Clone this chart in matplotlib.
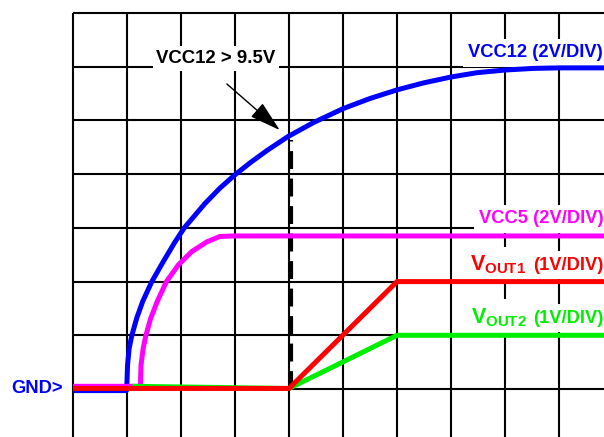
import matplotlib
matplotlib.use("Agg")
import matplotlib.pyplot as plt

plt.rcParams['font.family'] = ['Liberation Sans', 'DejaVu Sans']
plt.rcParams['font.weight'] = 'bold'
plt.rcParams['mathtext.fontset'] = 'custom'
plt.rcParams['mathtext.rm'] = 'Liberation Sans:bold'
plt.rcParams['mathtext.it'] = 'Liberation Sans:bold'
plt.rcParams['mathtext.bf'] = 'Liberation Sans:bold'

# scope traces: x in time divisions, y in divisions above GND
vcc12_x = [0, 0.99, 1.0, 1.01, 1.04, 1.09, 1.18, 1.29, 1.46, 1.67, 1.89, 2.06, 2.44,
           2.72, 3.0, 3.29, 3.59, 3.98, 4.45, 5.0, 5.5, 6.0, 6.49, 7.0, 7.48, 8.0,
           8.52, 9.0, 9.9]
vcc12_y = [-0.03, -0.03, 0.15, 0.45, 0.76, 1.0, 1.32, 1.63, 2.0, 2.37, 2.74, 3.0, 3.45,
           3.74, 3.99, 4.22, 4.44, 4.70, 4.96, 5.22, 5.41, 5.57, 5.70, 5.81, 5.89, 5.94,
           5.97, 5.98, 5.98]

vcc5_x = [0, 1.25, 1.25, 1.26, 1.30, 1.35, 1.44, 1.56, 1.73, 1.95, 2.20, 2.48, 2.72,
          2.97, 9.9]
vcc5_y = [0.05, 0.05, 0.15, 0.45, 0.76, 1.0, 1.32, 1.63, 2.0, 2.31, 2.56, 2.74, 2.84,
          2.85, 2.85]

vout1_x = [0, 4.0, 6.0, 9.9]
vout1_y = [0.01, 0.01, 2.0, 2.0]

vout2_x = [1.1, 4.0, 6.0, 9.9]
vout2_y = [0.05, 0.01, 1.0, 1.0]

# VCC12 > 9.5V marker (time div, level div)
marker_x = 4.04
marker_top = 4.64

n_xdiv = 10
n_ydiv = 8

BLUE = '#0000ff'
MAGENTA = '#ff00ff'
RED = '#ff0000'
GREEN = '#00ee00'

fig = plt.figure(figsize=(6.04, 4.37), dpi=100)
ax = fig.add_axes([0, 0, 1, 1])
ax.set_xlim(-1.352, 9.833)
ax.set_ylim(-0.894, 7.244)
ax.axis('off')

# scope grid
for i in range(n_xdiv):
    ax.plot([i, i], [-1, n_ydiv - 1], color='black', lw=1.5, zorder=1,
            solid_capstyle='butt')
for j in range(n_ydiv):
    ax.plot([0, 10], [j, j], color='black', lw=1.5, zorder=1,
            solid_capstyle='butt')

# traces
lw = 3.6
style = dict(lw=lw, solid_capstyle='butt', solid_joinstyle='round')
ax.plot(vcc12_x, vcc12_y, color=BLUE, zorder=4, **style)
ax.plot(vcc5_x, vcc5_y, color=MAGENTA, zorder=5, **style)
ax.plot(vout2_x, vout2_y, color=GREEN, zorder=6, **style)
ax.plot(vout1_x, vout1_y, color=RED, zorder=7, **style)

ax.plot([marker_x, marker_x], [0, marker_top], color='black', lw=3,
        dashes=(4.3, 2.3), zorder=3)

box = dict(boxstyle='square,pad=0.3', fc='white', ec='none')
fs = 13.2

ax.text(9.815, 6.18, 'VCC12 (2V/DIV)', color=BLUE, fontsize=fs,
        ha='right', va='baseline', bbox=box, zorder=2)
ax.text(9.83, 3.09, 'VCC5 (2V/DIV)', color=MAGENTA, fontsize=fs,
        ha='right', va='baseline', bbox=box, zorder=2)

for base, name, col in [(2.216, 'OUT1', RED), (1.23, 'OUT2', GREEN)]:
    t = ax.text(9.83, base, '(1V/DIV)', color=col, fontsize=fs,
                ha='right', va='baseline', bbox=box, zorder=2)
    ax.annotate('$V_{%s}$' % name, xy=(0, base), xycoords=(t, 'data'),
                xytext=(-5, 0), textcoords='offset points', color=col,
                fontsize=15.5, ha='right', va='baseline', bbox=box, zorder=2)

ax.text(-0.185, -0.07, 'GND>', color=BLUE, fontsize=fs, ha='right',
        va='baseline', zorder=2)

ax.text(2.65, 6.07, 'VCC12 > 9.5V', color='black', fontsize=13.4,
        ha='center', va='baseline', zorder=2,
        bbox=dict(boxstyle='square,pad=0.2', fc='white', ec='none'))
ax.annotate('', xy=(3.83, 4.82), xytext=(2.85, 5.68), zorder=8,
            arrowprops=dict(arrowstyle='-|>,head_length=1.4,head_width=0.4',
                            mutation_scale=14, lw=1, color='black',
                            shrinkA=0, shrinkB=0))

fig.savefig('out.png', dpi=100)
